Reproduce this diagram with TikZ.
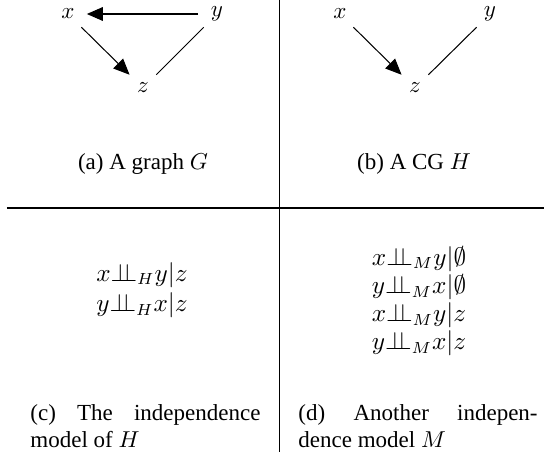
\documentclass[tikz,border=0pt]{standalone}
\usepackage{fontspec}
\setmainfont{Liberation Serif}
\usepackage{tikz}
\usetikzlibrary{arrows.meta,positioning}
\newcommand{\indep}{{\perp\!\!\!\perp}}

\begin{document}
\begin{tikzpicture}[
  x=0.4348pt, y=-0.4348pt,
  font=\fontsize{10}{12}\selectfont,
  var/.style={circle,inner sep=0pt,minimum size=16pt},
  arr/.style={-{Triangle[length=7pt,width=6pt]},line width=0.45pt},
  und/.style={line width=0.45pt},
  rulez/.style={line width=0.5pt},
  capt/.style={anchor=base,inner sep=0pt},
  para/.style={anchor=base west,inner sep=0pt,align=justify},
  model/.style={align=center,font=\fontsize{10.5}{12.2}\selectfont},
]
\useasboundingbox (0,0) rectangle (544,456);

% (a) graph G
\node[var] (gx) at (68,14) {$x$};
\node[var] (gy) at (217,14) {$y$};
\node[var] (gz) at (143,88) {$z$};
\draw[arr] (gy) -- (gx);
\draw[arr] (gx) -- (gz);
\draw[und] (gy) -- (gz);
\node[capt] (capa) at (143,169) {(a) A graph $G$};

% (b) CG H
\node[var] (hx) at (340,14) {$x$};
\node[var] (hy) at (490,14) {$y$};
\node[var] (hz) at (415,88) {$z$};
\draw[arr] (hx) -- (hz);
\draw[und] (hy) -- (hz);
\node[capt] (capb) at (414,169) {(b) A CG $H$};

% (c) model of H
\node[model] (indh) at (142,290) {$x\indep_H y|z$\\[1pt]$y\indep_H x|z$};
\node[para,text width=100pt] (capc) at (30,420)
  {(c) The independence\linebreak model of $H$};

% (d) model M
\node[model] (indm) at (419,301)
  {$x\indep_M y|\emptyset$\\$y\indep_M x|\emptyset$\\$x\indep_M y|z$\\$y\indep_M x|z$};
\node[para,text width=104pt] (capd) at (298,420)
  {(d) Another indepen-\linebreak dence model $M$};

% separators
\coordinate (vtop) at (279.5,0);
\coordinate (vbot) at (279.5,452);
\coordinate (hl) at (7,208);
\coordinate (hr) at (544,208);
\draw[rulez] (vtop) -- (vbot);
\draw[rulez] (hl) -- (hr);
\end{tikzpicture}
\end{document}
